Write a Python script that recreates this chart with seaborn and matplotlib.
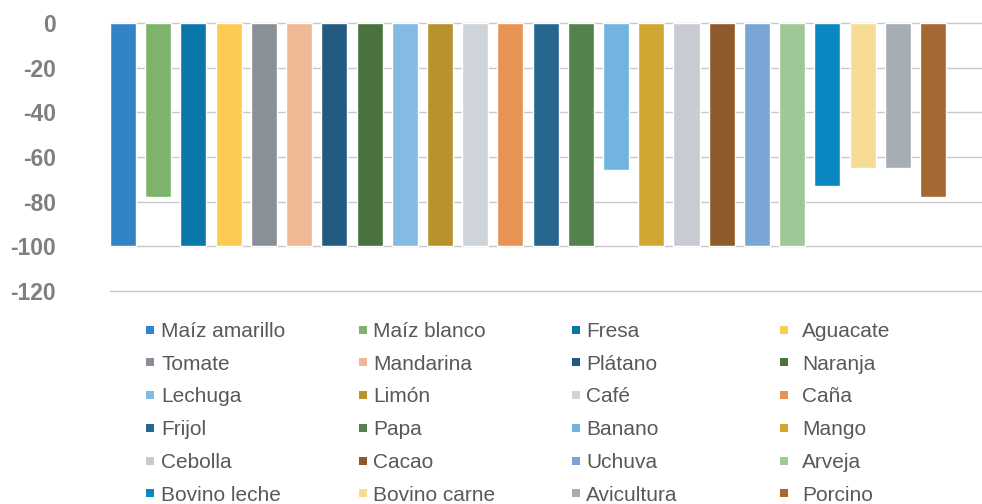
import matplotlib
matplotlib.use("Agg")
import matplotlib.pyplot as plt
from matplotlib.lines import Line2D
import seaborn as sns
import pandas as pd

cultivos = ["Maíz amarillo", "Maíz blanco", "Fresa", "Aguacate",
            "Tomate", "Mandarina", "Plátano", "Naranja",
            "Lechuga", "Limón", "Café", "Caña",
            "Frijol", "Papa", "Banano", "Mango",
            "Cebolla", "Cacao", "Uchuva", "Arveja",
            "Bovino leche", "Bovino carne", "Avicultura", "Porcino"]
valores = [-100, -78, -100, -100,
           -100, -100, -100, -100,
           -100, -100, -100, -100,
           -100, -100, -66, -100,
           -100, -100, -100, -100,
           -73, -65, -65, -78]
colores = ["#3284C6", "#7DB36A", "#0A77AB", "#FDCB52",
           "#8A9097", "#F0B995", "#235B80", "#49723F",
           "#85BAE3", "#B8922C", "#CFD3DA", "#E89253",
           "#26668F", "#53824C", "#71B4E0", "#D0A733",
           "#C8CBD2", "#8F5A2A", "#7AA6D6", "#9EC896",
           "#0A87C0", "#F7DC96", "#A7ADB4", "#A46832"]
yticks = [0, -20, -40, -60, -80, -100, -120]

sns.set_theme(style="white")
plt.rcParams["font.family"] = ["Liberation Sans", "DejaVu Sans"]

df = pd.DataFrame({"cultivo": cultivos, "valor": valores})
palette = dict(zip(cultivos, colores))

fig = plt.figure(figsize=(9.82, 5.04), dpi=100)
ax = fig.add_axes([110 / 982, 1 - 290.7 / 504, 1 - 110 / 982, (290.7 - 23.3) / 504])

sns.barplot(data=df, x="cultivo", y="valor", hue="cultivo", palette=palette,
            order=cultivos, hue_order=cultivos, width=0.74, saturation=1,
            legend=False, errorbar=None, ax=ax)

ax.set_ylim(-120, 0)
ax.set_xlim(-0.37, 24.39)
ax.set_yticks(yticks)
ax.set_yticklabels([str(t) for t in yticks])
ax.set_xticks([])
ax.set_xlabel("")
ax.set_ylabel("")
ax.set_axisbelow(True)
ax.yaxis.grid(True, color="#C8C8C8", linewidth=1.0)
ax.xaxis.grid(False)
for gl in ax.get_ygridlines():
    gl.set_clip_on(False)
for s in ax.spines.values():
    s.set_visible(False)
ax.tick_params(axis="y", length=0, pad=39, labelsize=16.5, labelcolor="#7F7F7F")
for lab in ax.get_yticklabels():
    lab.set_fontweight("bold")

# Legend: 4 columns, 6 rows (row-major order)
col_marker_x = [149.5, 362.5, 575.5, 783.5]
col_text_x = [161, 373, 586, 802]
fs = 15
fs_px = fs * 100 / 72
hl = 0.5
for c in range(4):
    items = [r * 4 + c for r in range(6)]
    handles = [Line2D([0], [0], marker="s", linestyle="none", markersize=5.2,
                      markerfacecolor=colores[i], markeredgewidth=0)
               for i in items]
    labels = [cultivos[i] for i in items]
    x0 = col_marker_x[c] - hl * fs_px / 2
    pad = (col_text_x[c] - col_marker_x[c] - hl * fs_px / 2) / fs_px
    fig.legend(handles, labels, loc="upper left",
               bbox_to_anchor=(x0 / 982, 1 - 322 / 504),
               frameon=False, fontsize=fs, labelcolor="#595959",
               handlelength=hl, handletextpad=pad, borderpad=0,
               borderaxespad=0, labelspacing=0.66)

fig.savefig("out.png", dpi=100)
